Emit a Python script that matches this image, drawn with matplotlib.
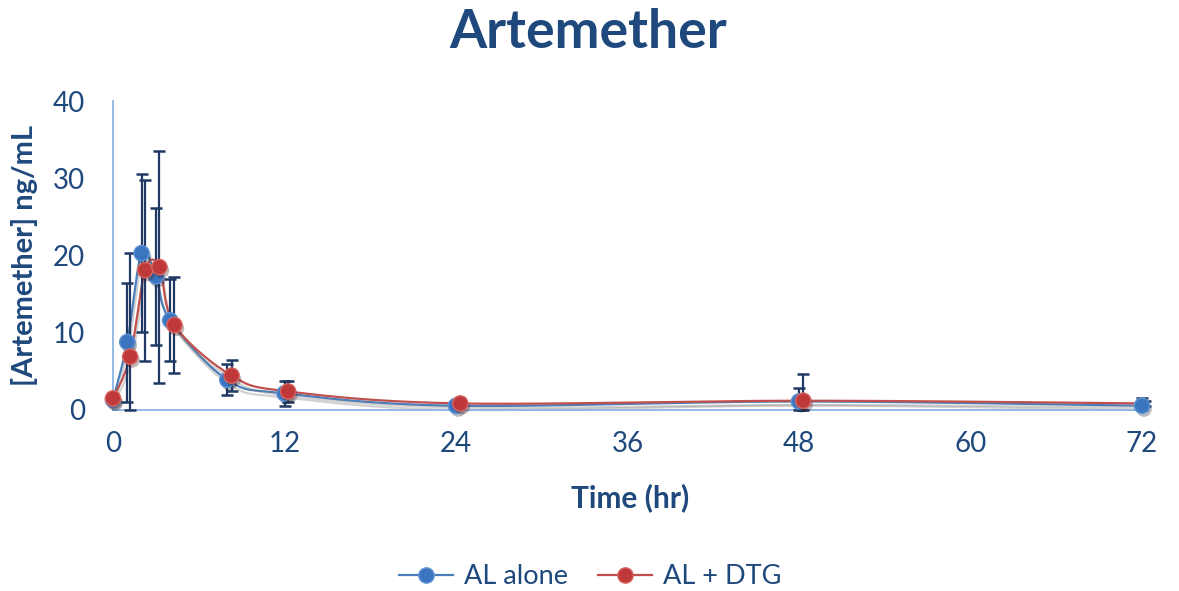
import numpy as np
import matplotlib.pyplot as plt
import matplotlib.patheffects as pe

# Mean artemether concentrations (ng/mL) and standard deviations
time_alone = [0, 1, 2, 3, 4, 8, 12, 24, 48, 72]
conc_alone = [1.3, 8.8, 20.3, 17.3, 11.6, 3.9, 2.15, 0.55, 1.1, 0.55]
sd_alone = [0.3, 7.7, 10.2, 8.9, 5.3, 2.0, 1.6, 0.3, 1.8, 1.05]

time_dtg = [0, 1.2, 2.25, 3.25, 4.3, 8.3, 12.25, 24.3, 48.3, 72.2]
conc_dtg = [1.5, 6.9, 18.1, 18.5, 11.0, 4.45, 2.4, 0.85, 1.2, 0.85]
sd_dtg = [0.3, 13.4, 11.7, 15.0, 6.2, 2.0, 1.4, 0.3, 3.5, 0.3]

x_ticks = [0, 12, 24, 36, 48, 60, 72]
y_ticks = [0, 10, 20, 30, 40]

TEXT = '#1f497d'
BAR = '#1f3864'
plt.rcParams['font.family'] = ['Lato', 'DejaVu Sans']


def smooth(x, y, sx=14.29, sy=7.725, n=30):
    # Excel-style smoothed line: cubic Bezier through each point,
    # tangents computed in screen-like units
    p = np.column_stack([np.asarray(x) * sx, np.asarray(y) * sy])
    p = np.vstack([p[0], p, p[-1]])
    out = []
    t = np.linspace(0, 1, n)[:, None]
    for i in range(1, len(p) - 2):
        p0, p1, p2, p3 = p[i - 1], p[i], p[i + 1], p[i + 2]
        c1 = p1 + (p2 - p0) / 6
        c2 = p2 - (p3 - p1) / 6
        seg = ((1 - t) ** 3) * p1 + 3 * ((1 - t) ** 2) * t * c1 \
            + 3 * (1 - t) * t ** 2 * c2 + t ** 3 * p2
        out.append(seg)
    out = np.vstack(out)
    return out[:, 0] / sx, out[:, 1] / sy


fig = plt.figure(figsize=(11.79, 5.91), dpi=100)
ax = fig.add_axes([113 / 1179, 1 - 410 / 591, 1029 / 1179, 309 / 591])

shadow = [pe.SimpleLineShadow(offset=(1, -3), shadow_color='#808080', alpha=0.35),
          pe.Normal()]

series = [
    (time_alone, conc_alone, sd_alone, '#4a7ebb', '#3b75bf', '#5d92d4', 'AL alone', None),
    (time_dtg, conc_dtg, sd_dtg, '#c0504d', '#c0393a', '#d76461', 'AL + DTG',
     list(range(len(time_dtg) - 1))),
]

for t, c, sd, lc, face, edge, label, every in series:
    sx, sy = smooth(t, c)
    ax.plot(sx, sy, color=lc, lw=1.6, zorder=2, path_effects=shadow, clip_on=False)
    # lower whiskers stop at the x axis
    lower = np.minimum(sd, c)
    eb = ax.errorbar(t, c, yerr=[lower, sd], fmt='none', ecolor=BAR, elinewidth=1.6,
                     capsize=4.5, capthick=1.8, zorder=3)
    for cap in eb[1]:
        cap.set_clip_on(False)
    ax.plot(t, c, 'o', ms=11, mfc=face, mec=edge, mew=1.0, zorder=4, clip_on=False,
            markevery=every,
            path_effects=[pe.SimplePatchShadow(offset=(1.5, -2.5), alpha=0.3),
                          pe.Normal()])
    # legend proxy
    ax.plot([], [], '-o', color=lc, ms=11, mfc=face, mec=edge, lw=1.6, label=label)

ax.set_xlim(0, 72)
ax.set_ylim(0, 40)
ax.set_xticks(x_ticks)
ax.set_yticks(y_ticks)
ax.tick_params(length=0, labelsize=20, labelcolor=TEXT)
ax.tick_params(axis='y', pad=20)
ax.tick_params(axis='x', pad=15)
for s in ['top', 'right']:
    ax.spines[s].set_visible(False)
for s in ['left', 'bottom']:
    ax.spines[s].set_color('#8eb4e3')
    ax.spines[s].set_linewidth(1.3)

fig.text(0.499, 1 - 33 / 591, 'Artemether', ha='center', va='center',
         fontsize=38.5, fontweight='bold', color=TEXT)
fig.text(630 / 1179, 1 - 498 / 591, 'Time (hr)', ha='center', va='center',
         fontsize=21.5, fontweight='bold', color=TEXT)
fig.text(25 / 1179, 1 - 255 / 591, '[Artemether] ng/mL', ha='center', va='center',
         rotation=90, fontsize=21, fontweight='bold', color=TEXT)

handles, labels = ax.get_legend_handles_labels()
leg = fig.legend(handles, labels, loc='center', bbox_to_anchor=(590 / 1179, 1 - 577 / 591),
                 ncol=2, frameon=False, fontsize=19.5, handlelength=2.0,
                 columnspacing=1.1, handletextpad=0.4)
for txt in leg.get_texts():
    txt.set_color(TEXT)

fig.savefig('out.png', dpi=100)
